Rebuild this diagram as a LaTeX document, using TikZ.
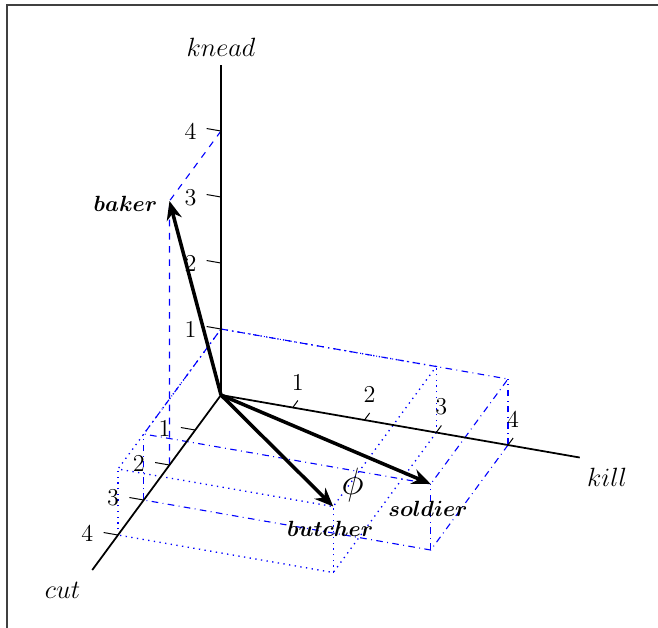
\documentclass[tikz,border=0pt]{standalone}
\usepackage{bm}
\usetikzlibrary{arrows.meta}
\begin{document}
\begin{tikzpicture}[
  x={(32.614pt,-5.682pt)}, y={(-11.705pt,-15.909pt)}, z={(0pt,30pt)},
  axis/.style={black, line width=0.8pt},
  tickmark/.style={black, line width=0.45pt},
  ticklab/.style={inner sep=0pt, font=\fontsize{11}{13}\selectfont},
  vecarrow/.style={black, line width=1.6pt, -{Stealth[length=8.5pt,width=7pt]}},
  bakerbox/.style={blue, dashed, line width=0.5pt},
  butcherbox/.style={blue, dotted, line width=0.6pt},
  soldierbox/.style={blue, dashdotted, line width=0.5pt},
  axlab/.style={inner sep=0pt, font=\fontsize{12}{14}\selectfont},
  veclab/.style={inner sep=0pt},
  framer/.style={black!75, line width=0.5pt}
]
\useasboundingbox (-100.45pt,-105.45pt) rectangle (198.64pt,179.55pt);
\draw[framer] (-97.27pt,-106pt) -- (-97.27pt,177.27pt) -- (199pt,177.27pt);

% points
\coordinate (O) at (0,0,0);
\coordinate (Xend) at (5,0,0);
\coordinate (Yend) at (0,5,0);
\coordinate (Zend) at (0,0,5);
\coordinate (Bk) at (0,2,4);
\coordinate (Bu) at (3,4,1);
\coordinate (So) at (4,3,1);

% baker guide (dashed)
\draw[bakerbox] (0,0,4) -- (Bk) -- (0,2,0);

% butcher box (dotted)
\draw[butcherbox] (0,0,1) -- (3,0,1) -- (Bu) -- (0,4,1) -- cycle;
\draw[butcherbox] (3,0,0) -- (3,4,0) -- (0,4,0);
\draw[butcherbox] (3,0,0) -- (3,0,1);
\draw[butcherbox] (0,4,0) -- (0,4,1);
\draw[butcherbox] (3,4,0) -- (Bu);

% soldier box (dash dotted)
\draw[soldierbox] (0,0,1) -- (4,0,1) -- (So) -- (0,3,1) -- cycle;
\draw[soldierbox] (4,0,0) -- (4,3,0) -- (0,3,0);
\draw[soldierbox] (4,0,0) -- (4,0,1);
\draw[soldierbox] (0,3,0) -- (0,3,1);
\draw[soldierbox] (4,3,0) -- (So);

% axes
\draw[axis] (O) -- (Xend);
\draw[axis] (O) -- (Yend);
\draw[axis] (O) -- (Zend);

% ticks
\foreach \i in {1,2,3,4} {
  \draw[tickmark] (\i,0,0) -- (\i,-0.2,0) node[ticklab, above=4.4pt] (kx\i) {\i};
  \draw[tickmark] (0,\i,0) -- (-0.2,\i,0) node[ticklab, left=4.45pt, yshift=-0.3pt] (ky\i) {\i};
  \draw[tickmark] (0,0,\i) -- (-0.2,0,\i) node[ticklab, left=4.35pt, yshift=-1.4pt] (kz\i) {\i};
}

% axis labels
\node[axlab, above=3.5pt] (knead) at (Zend) {$knead$};
\node[axlab, xshift=12.4pt, yshift=-8.9pt] (kill) at (Xend) {$kill$};
\node[axlab, xshift=-13.5pt, yshift=-9.1pt] (cut) at (Yend) {$cut$};

% vectors
\draw[vecarrow] (O) -- (Bk);
\draw[vecarrow] (O) -- (Bu);
\draw[vecarrow] (O) -- (So);

\node[veclab, xshift=-20pt, yshift=-1.1pt] (baker) at (Bk) {$\bm{baker}$};
\node[veclab, xshift=-1.4pt, yshift=-10.2pt] (butcher) at (Bu) {$\bm{butcher}$};
\node[veclab, xshift=-1.25pt, yshift=-11.4pt] (soldier) at (So) {$\bm{soldier}$};
\node[inner sep=0pt, font=\fontsize{19}{22}\selectfont] (phi) at (59.8pt,-41.1pt) {$\phi$};
\end{tikzpicture}
\end{document}
